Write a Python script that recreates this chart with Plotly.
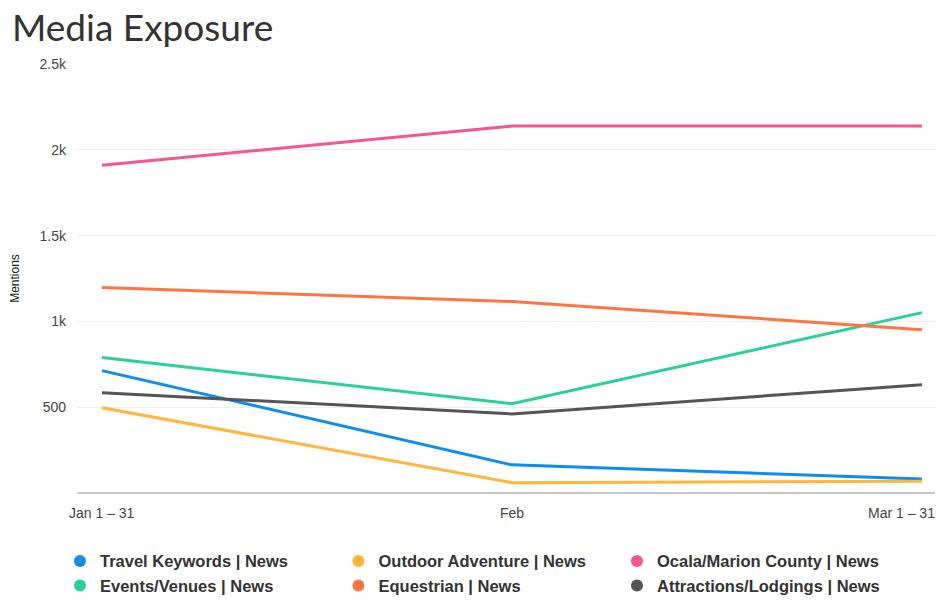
import plotly.graph_objects as go

categories = ["Jan", "Feb", "Mar"]
tick_labels = ["Jan 1 – 31", "Feb", "Mar 1 – 31"]

series_names = [
    "Travel Keywords | News",
    "Outdoor Adventure | News",
    "Ocala/Marion County | News",
    "Events/Venues | News",
    "Equestrian | News",
    "Attractions/Lodgings | News",
]
travel = [713, 164, 82]
outdoor = [497, 60, 68]
ocala = [1910, 2138, 2138]
events = [789, 520, 1051]
equestrian = [1197, 1116, 952]
attractions = [584, 461, 631]
series_values = [travel, outdoor, ocala, events, equestrian, attractions]
colors = ["#0c8ef0", "#ffb63a", "#f5578a", "#29d19a", "#ff7540", "#555555"]

y_tickvals = [500, 1000, 1500, 2000, 2500]
y_ticktext = ["500", "1k", "1.5k", "2k", "2.5k"]

fig = go.Figure()
for name, vals, col in zip(series_names, series_values, colors):
    fig.add_trace(go.Scatter(x=categories, y=vals, mode="lines", name=name,
                             line=dict(color=col, width=3), showlegend=False,
                             hoverinfo="x+y+name"))
# legend entries as dots
for name, col in zip(series_names, colors):
    fig.add_trace(go.Scatter(x=[None], y=[None], mode="markers", name=name,
                             marker=dict(color=col, size=9, symbol="circle")))

# x tick labels as annotations (last one kept inside the page)
for i, (cat, lab) in enumerate(zip(categories, tick_labels)):
    last = i == len(categories) - 1
    fig.add_annotation(x=cat, y=0, xref="x", yref="paper", text=lab,
                       showarrow=False, yanchor="top", yshift=-10,
                       xanchor="right" if last else "center",
                       xshift=15 if last else 0,
                       font=dict(family="Liberation Sans, Arial", size=14, color="#444"))

fig.update_layout(
    width=937, height=609,
    margin=dict(l=77, r=2, t=64, b=116),
    paper_bgcolor="white", plot_bgcolor="white",
    title=dict(text="Media Exposure", x=0, xref="container", xanchor="left",
               y=0.975, yref="container", yanchor="top", pad=dict(l=12),
               font=dict(family="Lato", size=37, color="#333333")),
    showlegend=True,
    legend=dict(orientation="h", xref="container", yref="container",
                x=0.064, xanchor="left", y=0.107, yanchor="top",
                entrywidth=233.5, entrywidthmode="pixels",
                font=dict(family="Liberation Sans, Arial", size=16.5, color="#333", weight="bold"),
                tracegroupgap=0, itemsizing="constant", traceorder="normal"),
    xaxis=dict(type="category", range=[-0.061, 2.032], showgrid=False,
               showticklabels=False, showline=False, zeroline=False, ticks=""),
    yaxis=dict(range=[0, 2500], tickvals=y_tickvals, ticktext=y_ticktext,
               showgrid=True, gridcolor="#eeeeee", gridwidth=1, zeroline=True,
               zerolinecolor="#c8c8c8", zerolinewidth=1.5, ticks="",
               ticklabelstandoff=10,
               tickfont=dict(family="Liberation Sans, Arial", size=14, color="#444"),
               title=dict(text="Mentions", standoff=17,
                          font=dict(family="Liberation Sans, Arial", size=12, color="#222"))),
)

fig.write_html("out.html")
